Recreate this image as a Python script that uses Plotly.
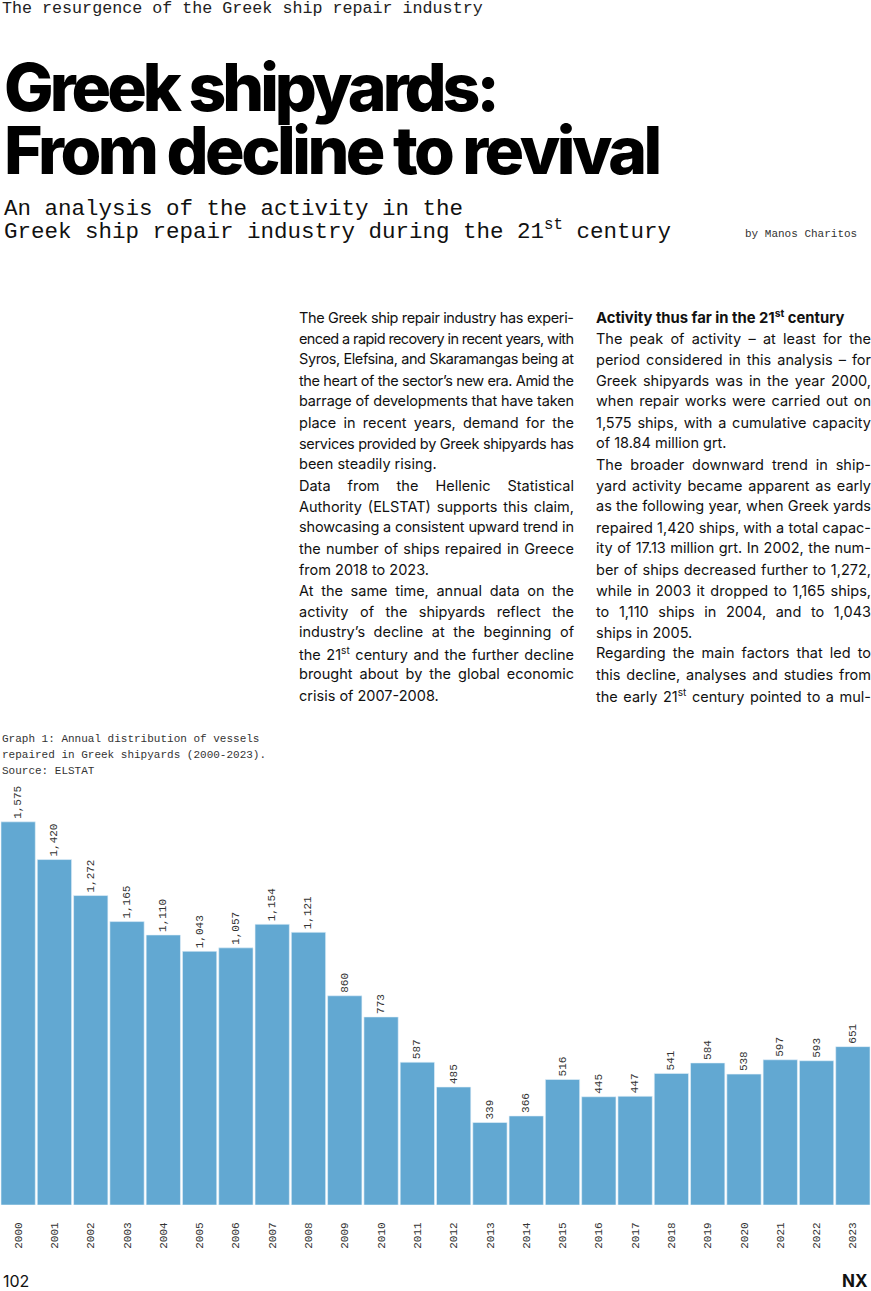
import json
import plotly.graph_objects as go

years = [str(y) for y in range(2000, 2024)]
ships = [1575, 1420, 1272, 1165, 1110, 1043, 1057, 1154, 1121, 860, 773, 587,
         485, 339, 366, 516, 445, 447, 541, 584, 538, 597, 593, 651]
value_labels = ["{:,}".format(v) for v in ships]

kicker = "The resurgence of the Greek ship repair industry"
title_lines = ["Greek shipyards:", "From decline to revival"]
subtitle_lines = ["An analysis of the activity in the",
                  "Greek ship repair industry during the 21<sup>st</sup> century"]
byline = "by Manos Charitos"
caption_lines = ["Graph 1: Annual distribution of vessels",
                 "repaired in Greek shipyards (2000-2023).",
                 "Source: ELSTAT"]
col1 = ["The Greek ship repair industry has experi-",
        "enced a rapid recovery in recent years, with",
        "Syros, Elefsina, and Skaramangas being at",
        "the heart of the sector’s new era. Amid the",
        "barrage of developments that have taken",
        "place in recent years, demand for the",
        "services provided by Greek shipyards has",
        "been steadily rising.",
        "Data from the Hellenic Statistical",
        "Authority (ELSTAT) supports this claim,",
        "showcasing a consistent upward trend in",
        "the number of ships repaired in Greece",
        "from 2018 to 2023.",
        "At the same time, annual data on the",
        "activity of the shipyards reflect the",
        "industry’s decline at the beginning of",
        "the 21<sup>st</sup> century and the further decline",
        "brought about by the global economic",
        "crisis of 2007-2008."]
col2 = ["<b>Activity thus far in the 21<sup>st</sup> century</b>",
        "The peak of activity – at least for the",
        "period considered in this analysis – for",
        "Greek shipyards was in the year 2000,",
        "when repair works were carried out on",
        "1,575 ships, with a cumulative capacity",
        "of 18.84 million grt.",
        "The broader downward trend in ship-",
        "yard activity became apparent as early",
        "as the following year, when Greek yards",
        "repaired 1,420 ships, with a total capac-",
        "ity of 17.13 million grt. In 2002, the num-",
        "ber of ships decreased further to 1,272,",
        "while in 2003 it dropped to 1,165 ships,",
        "to 1,110 ships in 2004, and to 1,043",
        "ships in 2005.",
        "Regarding the main factors that led to",
        "this decline, analyses and studies from",
        "the early 21<sup>st</sup> century pointed to a mul-"]
page_number = "102"
brand = "NX"

# lines that end a paragraph (left ragged, not justified)
col1_ends = {7, 12, 18}
col2_ends = {0, 6, 15}

W, H = 871, 1291
L, R, T, B = 0, 0, 780, 86
PW, PH = W - L - R, H - T - B
BOTTOM = H - B
YMAX = 1747

def px(x):
    return (x - L) / PW

def py(y):
    return (BOTTOM - y) / PH

MONO = "Liberation Mono, DejaVu Sans Mono, monospace"
SANS = "Inter, Roboto, sans-serif"

fig = go.Figure()
fig.add_trace(go.Bar(
    x=years, y=ships, text=value_labels, textposition="outside",
    textangle=-90, cliponaxis=False,
    textfont=dict(family=MONO, size=11, color="#333333"),
    marker=dict(color="#62a8d2", line=dict(color="#e6f2fa", width=0.6)),
    hoverinfo="skip",
))

ann = []
justify = []
def add(text, x, y, size, family, color="#111111", anchor="left", yanchor="middle", weight=None):
    f = dict(family=family, size=size, color=color)
    if weight:
        f["weight"] = weight
    ann.append(dict(text=text, x=px(x), y=py(y), xref="paper", yref="paper",
                    xanchor=anchor, yanchor=yanchor, showarrow=False, font=f, align=anchor))
    return len(ann) - 1

add(kicker, 0, 8, 16.7, MONO, color="#222222")
add('<span style="letter-spacing:-4px">' + title_lines[0] + '</span>', 2, 87, 66, SANS, color="#000000", weight=800)
add('<span style="letter-spacing:-3.5px">' + title_lines[1] + '</span>', 2, 150, 66, SANS, color="#000000", weight=800)
add(subtitle_lines[0], 2, 209, 22.5, MONO)
add(subtitle_lines[1], 2, 231, 22.5, MONO)
add(byline, 743, 234, 11, MONO, color="#333333")
for i, line in enumerate(caption_lines):
    add(line, 0, 739 + 16 * i, 11, MONO, color="#333333")
for i, line in enumerate(col1):
    k = add(line, 297, 317 + 21 * i, 14.5, SANS)
    if i not in col1_ends:
        justify.append([k, 275])
for i, line in enumerate(col2):
    k = add(line, 594, 317 + 21 * i, 14.8 if i == 0 else 14.5, SANS)
    if i not in col2_ends:
        justify.append([k, 275])
add(page_number, 1, 1281, 16, SANS)
add("<b>" + brand + "</b>", 870, 1281, 17, SANS, anchor="right")

fig.update_layout(
    width=W, height=H,
    margin=dict(l=L, r=R, t=T, b=B, pad=0),
    paper_bgcolor="white", plot_bgcolor="white",
    bargap=0.055, showlegend=False,
    annotations=ann,
    xaxis=dict(type="category", tickangle=-90, showgrid=False, showline=False,
               zeroline=False, ticks="outside", ticklen=12, tickcolor="rgba(0,0,0,0)",
               tickfont=dict(family=MONO, size=11, color="#333333"), fixedrange=True),
    yaxis=dict(range=[0, YMAX], visible=False, fixedrange=True),
)

post = """
document.body.style.margin = '0';
var gd = document.getElementById('{plot_id}');
var specs = JUSTIFY;
specs.forEach(function(s){
  var t = gd.querySelector('.annotation[data-index="' + s[0] + '"] text');
  if (!t) return;
  var txt = t.textContent;
  var n = (txt.match(/[ \\u00a0]/g) || []).length;
  if (!n) return;
  var w = t.getComputedTextLength();
  var d = s[1] - w;
  if (d >= 0) {
    t.style.wordSpacing = (d / n) + 'px';
  } else {
    t.style.letterSpacing = (d / (txt.length - 1)) + 'px';
  }
});
""".replace("JUSTIFY", json.dumps(justify))

fig.write_html("out.html", post_script=post, config={"displayModeBar": False, "staticPlot": True})
